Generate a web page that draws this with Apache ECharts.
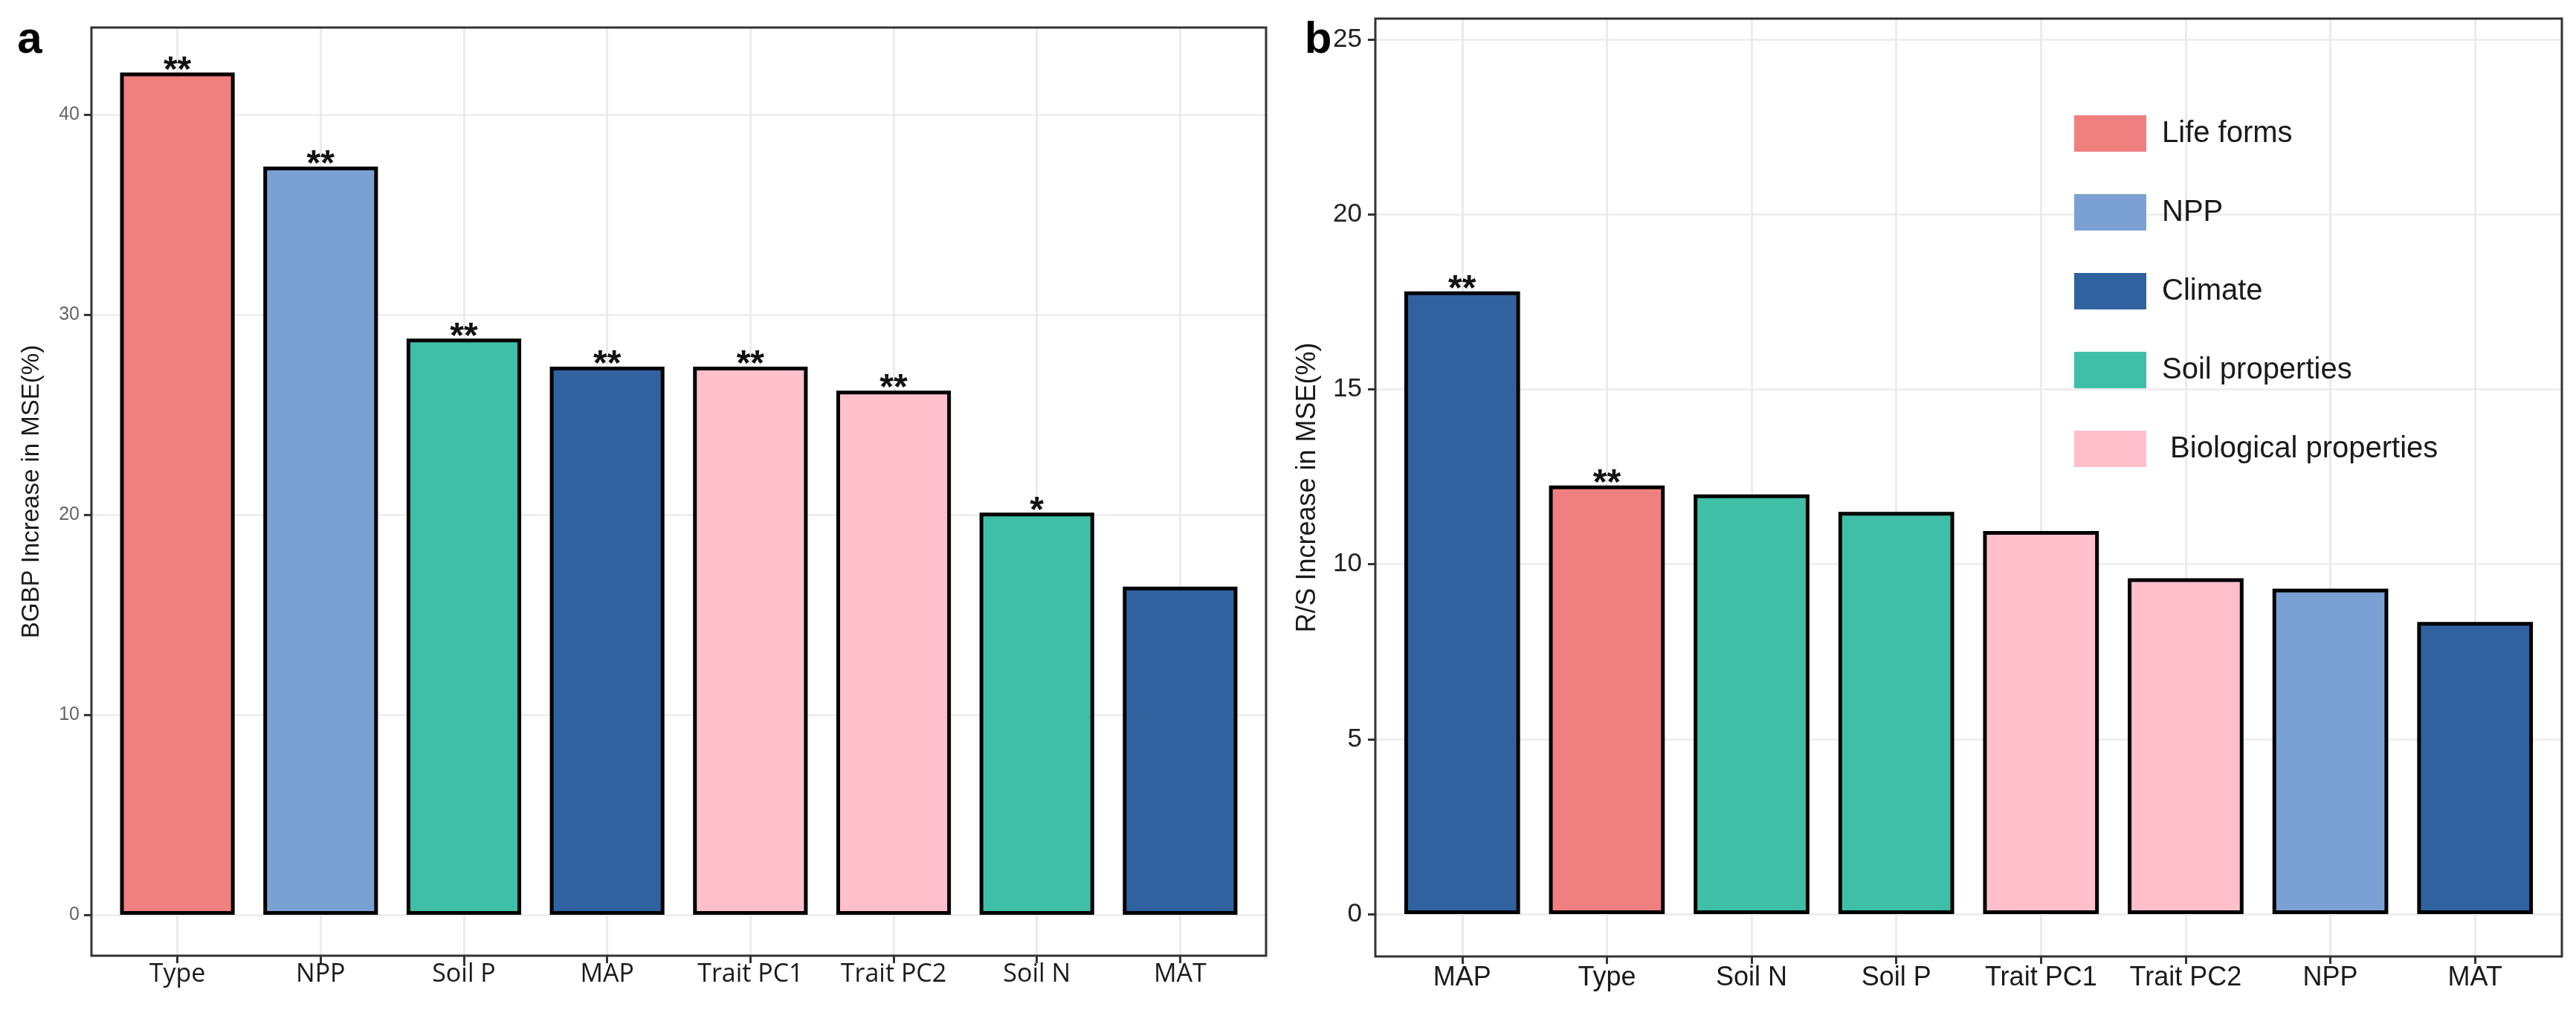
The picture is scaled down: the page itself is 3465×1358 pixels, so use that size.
<!DOCTYPE html>
<html>
<head>
<meta charset="utf-8">
<script src="https://cdn.jsdelivr.net/npm/echarts@6/dist/echarts.min.js"></script>
<style>
html,body{margin:0;padding:0;background:#fff;}
#chart{width:3465px;height:1358px;}
</style>
</head>
<body>
<div id="chart"></div>
<script>
// ---- data ----
const leftCategories = ['Type', 'NPP', 'Soil P', 'MAP', 'Trait PC1', 'Trait PC2', 'Soil N', 'MAT'];
const leftValues = [42.1, 37.4, 28.8, 27.4, 27.4, 26.2, 20.1, 16.4];
const leftGroups = ['Life forms', 'NPP', 'Soil properties', 'Climate', ' Biological properties', ' Biological properties', 'Soil properties', 'Climate'];
const leftSig = ['**', '**', '**', '**', '**', '**', '*', ''];

const rightCategories = ['MAP', 'Type', 'Soil N', 'Soil P', 'Trait PC1', 'Trait PC2', 'NPP', 'MAT'];
const rightValues = [17.8, 12.25, 12.0, 11.5, 10.95, 9.6, 9.3, 8.35];
const rightGroups = ['Climate', 'Life forms', 'Soil properties', 'Soil properties', ' Biological properties', ' Biological properties', 'NPP', 'Climate'];
const rightSig = ['**', '**', '', '', '', '', '', ''];

const groupNames = ['Life forms', 'NPP', 'Climate', 'Soil properties', ' Biological properties'];
const groupColors = ['#F08080', '#7BA1D4', '#30629F', '#40BFA8', '#FFBFCB'];

const leftTicks = [0, 10, 20, 30, 40];
const rightTicks = [0, 5, 10, 15, 20, 25];
const leftYMax = 44.35;
const rightYMax = 25.6;

// ---- build ----
const FONT = 'Liberation Sans, Arial, sans-serif';
const idx = leftCategories.map((_, i) => i);
const gridCol = '#ebebeb';

function frameX(gi, cats, fontFamily, fontSize, margin) {
  return {
    type: 'value', gridIndex: gi, min: -0.6, max: 7.6, splitNumber: 8,
    axisLine: { show: false, onZero: false },
    axisTick: { show: true, customValues: idx, length: 10, lineStyle: { color: '#333', width: 3 } },
    axisLabel: {
      show: true, customValues: idx, margin: margin,
      formatter: v => (Number.isInteger(v) && cats[v] !== undefined) ? cats[v] : '',
      fontFamily: fontFamily, fontSize: fontSize, color: '#1a1a1a'
    },
    splitLine: { show: true, lineStyle: { color: gridCol, width: 3 } }
  };
}
function plotX(gi) {
  return { type: 'value', gridIndex: gi, min: -0.6, max: 7.6, show: false, axisLine: { onZero: false } };
}
function frameY(gi, name, gap, size) {
  return {
    type: 'value', gridIndex: gi, min: 0, max: 1,
    axisLine: { show: false, onZero: false }, axisTick: { show: false }, axisLabel: { show: false }, splitLine: { show: false },
    name: name, nameLocation: 'middle', nameGap: gap, nameRotate: 90,
    nameTextStyle: { fontFamily: FONT, fontSize: size, color: '#1a1a1a' }
  };
}
function plotY(gi, max, interval, ticks, labelSize, labelColor, margin) {
  return {
    type: 'value', gridIndex: gi, min: 0, max: max, interval: interval,
    axisLine: { show: false, onZero: false },
    axisTick: { show: true, customValues: ticks, length: 10, lineStyle: { color: '#333', width: 3 } },
    axisLabel: {
      show: true, customValues: ticks, margin: margin,
      formatter: v => ticks.indexOf(v) >= 0 ? String(v) : '',
      fontFamily: FONT, fontSize: labelSize, color: labelColor
    },
    splitLine: { show: true, lineStyle: { color: gridCol, width: 2.5 } }
  };
}

function makeSeries(values, groups, sig, xi, yi) {
  return groupNames.map((g, gIdx) => {
    const data = [];
    values.forEach((v, i) => { if (groups[i] === g) data.push({ value: [i, v] }); });
    return {
      name: g, type: 'bar', xAxisIndex: xi, yAxisIndex: yi,
      barWidth: '80%', barGap: '-100%',
      itemStyle: { color: groupColors[gIdx], borderColor: '#000', borderWidth: 5 },
      label: {
        show: true, position: 'top', distance: -22,
        formatter: p => sig[p.value[0]] || '',
        fontFamily: FONT, fontSize: 48, lineHeight: 48, fontWeight: 'bold', color: '#111'
      },
      emphasis: { disabled: true },
      data: data
    };
  });
}

const chart = echarts.init(document.getElementById('chart'), null, { renderer: 'canvas' });
const frameStyle = { show: true, borderColor: '#333', borderWidth: 3, backgroundColor: 'transparent', z: 10 };

chart.setOption({
  animation: false,
  backgroundColor: '#fff',
  grid: [
    Object.assign({ left: 123, top: 37, width: 1580, height: 1248 }, frameStyle),
    { left: 123, top: 37, width: 1580, height: 1193 },
    Object.assign({ left: 1850, top: 25, width: 1596, height: 1261 }, frameStyle),
    { left: 1850, top: 25, width: 1596, height: 1204 }
  ],
  xAxis: [
    frameX(0, leftCategories, 'Open Sans, sans-serif', 34, 8),
    plotX(1),
    frameX(2, rightCategories, FONT, 36, 11),
    plotX(3)
  ],
  yAxis: [
    frameY(0, 'BGBP Increase in MSE(%)', 64, 33),
    plotY(1, leftYMax, 5, leftTicks, 25, '#666', 16),
    frameY(2, 'R/S Increase in MSE(%)', 73, 36),
    plotY(3, rightYMax, 2.5, rightTicks, 35, '#222', 18)
  ],
  legend: {
    data: groupNames, orient: 'vertical', left: 2785, top: 150,
    itemWidth: 97, itemHeight: 49, itemGap: 57, icon: 'rect',
    selectedMode: false,
    itemStyle: { borderWidth: 0 },
    textStyle: { fontFamily: FONT, fontSize: 40, color: '#1a1a1a', padding: [0, 0, 0, 16] }
  },
  graphic: [
    { type: 'text', x: 40, y: 54, style: { text: 'a', font: 'bold 60px Liberation Sans, Arial', fill: '#000', align: 'center', verticalAlign: 'middle' } },
    { type: 'text', x: 1773, y: 54, style: { text: 'b', font: 'bold 60px Liberation Sans, Arial', fill: '#000', align: 'center', verticalAlign: 'middle' } }
  ],
  series: makeSeries(leftValues, leftGroups, leftSig, 1, 1)
    .concat(makeSeries(rightValues, rightGroups, rightSig, 3, 3))
});
</script>
</body>
</html>
